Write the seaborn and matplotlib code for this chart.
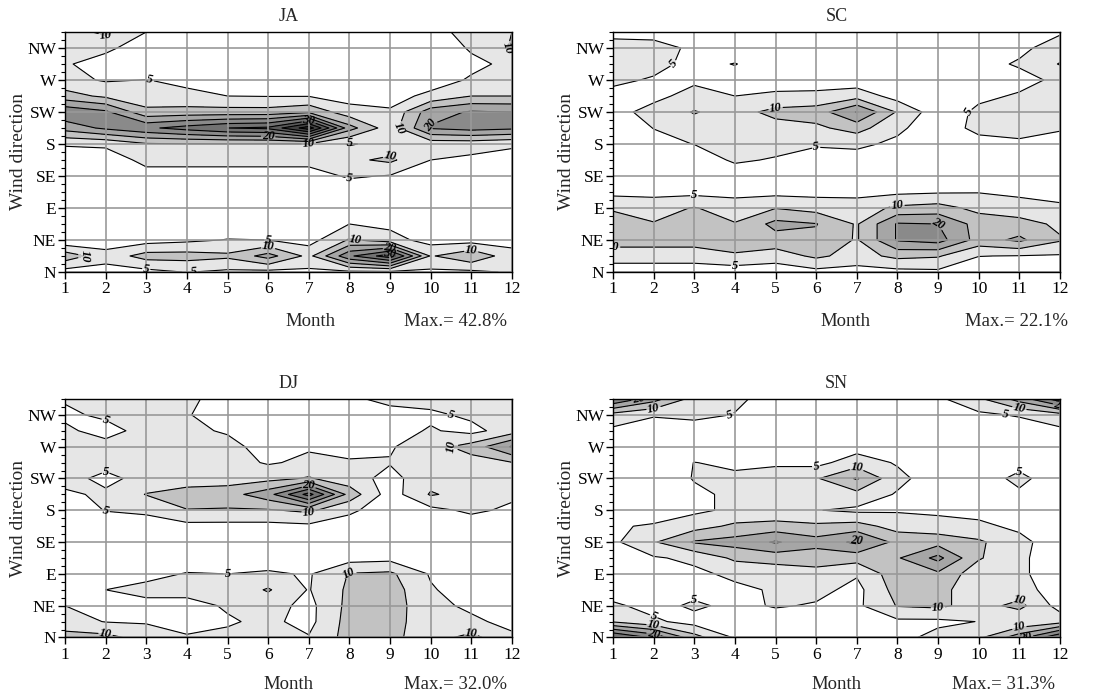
import numpy as np
import matplotlib
matplotlib.use("Agg")
import matplotlib.pyplot as plt
from matplotlib.ticker import MultipleLocator
import seaborn as sns

sns.set_theme(style="white")
plt.rcParams["font.family"] = ["Liberation Serif", "DejaVu Serif"]

# ---------------- data ----------------
months = list(range(1, 13))
dir16 = ["N", "NNE", "NE", "ENE", "E", "ESE", "SE", "SSE",
         "S", "SSW", "SW", "WSW", "W", "WNW", "NW", "NNW"]
dir_labels = ["N", "NE", "E", "SE", "S", "SW", "W", "NW"]
stations = ["JA", "SC", "DJ", "SN"]
max_text = ["Max.= 42.8%", "Max.= 22.1%", "Max.= 32.0%", "Max.= 31.3%"]

# frequency (%) per direction (rows N..NNW) and month (columns 1..12)
JA = [
    [3, 3, 3.5, 5.2, 4, 3.5, 4, 4, 4, 4, 4, 5.5],
    [13, 7, 12, 12, 11, 17, 8.5, 24, 33, 9.5, 14, 7],
    [1, 2, 3, 4, 5.2, 5, 3, 10.5, 7, 3, 3, 3],
    [1, 1, 1, 1.5, 2, 2, 2, 5, 3.8, 1, 1, 1],
    [0.5, 0.5, 0.5, 1, 1, 1, 1, 2, 1.5, 0.5, 0.5, 0.5],
    [0.5, 0.5, 0.5, 0.5, 0.5, 1, 1, 2, 1, 0.5, 0.5, 0.5],
    [1, 1, 3, 3, 3, 3, 3, 5.6, 4.7, 2, 1, 1],
    [2, 2, 6.5, 6.5, 6.5, 6.5, 6.5, 9, 11, 5, 4, 3],
    [5.5, 6, 9.5, 9.8, 9.8, 9.8, 9.8, 4.5, 7, 7, 7, 5.8],
    [17, 21, 24, 27, 30, 31, 42.8, 17, 7, 20.5, 22, 21],
    [24, 21, 11.5, 12, 12, 12, 14, 7, 5.5, 18, 20.5, 20],
    [12, 9, 6.5, 6, 5, 4.8, 4.8, 3, 3.5, 6, 10, 10],
    [6.5, 4.5, 5.1, 4, 3, 2.5, 2.5, 2, 2.5, 3, 5.5, 7],
    [5.5, 3, 2, 1.5, 1, 1, 1, 1, 1.5, 3.5, 4, 6],
    [6, 6, 2.5, 1.5, 1, 1, 1, 1, 1, 2, 5.5, 10.5],
    [8, 11, 5, 2, 1.5, 1, 1, 1, 1.5, 3, 7, 10],
]

SC = [
    [2, 2, 2, 2, 2, 3.5, 3, 3.5, 4, 2, 2, 2],
    [7.5, 7.5, 7.5, 9.5, 7.5, 11, 8, 11.3, 10.5, 5.1, 4.8, 4.5],
    [12, 12, 12, 12, 13, 14, 9.5, 20.5, 22.1, 13, 16, 10.5],
    [12, 10.3, 12, 10.3, 16.5, 15.2, 9.5, 20.5, 20, 13, 12, 9],
    [9.5, 8, 10.3, 7.5, 9.8, 8, 7.5, 11, 12, 8.5, 7, 6],
    [3.5, 3.5, 3.5, 3.5, 3.5, 3.5, 3.5, 4, 4.5, 4.8, 4, 3],
    [1, 1, 1, 2, 1.5, 1.5, 1.5, 1.5, 1.5, 1.5, 1, 1],
    [1, 1.5, 2, 5.8, 4.5, 3, 3, 2, 1, 1, 1.5, 1.5],
    [2, 3.5, 5.1, 7, 7, 5.5, 6, 4, 2, 3, 4, 3],
    [2, 5.1, 8, 8, 8, 9, 12, 6, 2, 6.5, 7, 5.5],
    [3, 7, 10.3, 8, 11.5, 12.5, 20.3, 9.5, 2, 6, 7.5, 7],
    [3.5, 3.5, 7, 5, 5.8, 6, 8, 3, 1, 4, 5.5, 6],
    [6, 4.5, 4, 3, 3, 3, 2, 1.5, 1, 2, 3.5, 6],
    [7, 6.5, 3.5, 5.2, 2, 2, 1.5, 1, 1, 3.5, 5.5, 10.3],
    [7, 7, 4, 2, 2, 1.5, 1, 1, 1, 2, 4, 7],
    [3.5, 3, 2, 1.5, 1, 1, 1, 1, 1, 1.5, 3, 4.5],
]

DJ = [
    [12, 11.5, 8, 5.5, 6, 6, 5.3, 12, 11, 8, 11.5, 6],
    [7, 4.8, 4.5, 3, 4.5, 6, 3.5, 12, 12, 7, 6, 3.5],
    [5.0, 2, 3.5, 3.5, 5.5, 7, 3.5, 11.5, 12.5, 6.5, 4, 2],
    [2, 5, 6.5, 6.5, 6.5, 10.5, 4.7, 11, 12.5, 5.5, 2.5, 1.5],
    [1.5, 3, 3.5, 5.3, 5, 5.8, 4.5, 10.3, 11, 4.5, 2, 1],
    [1, 1.5, 2, 2, 2, 2, 2.5, 3, 3.5, 2, 1, 1],
    [1, 1, 1, 1, 1, 1, 1, 1, 1, 1, 1, 1],
    [2, 2, 2.5, 3.5, 3.5, 3.5, 4, 2.5, 1.5, 1.5, 2, 1.5],
    [2, 5.2, 6, 9.8, 9.5, 9.5, 11, 6, 2, 3.5, 6, 4],
    [4, 6, 10.2, 12.5, 13, 18, 32, 13, 2.5, 10.5, 8, 6],
    [7, 3.5, 7, 7, 7.5, 8.5, 10.5, 7, 3.5, 8, 7, 7],
    [7, 7, 7, 7, 7, 4.5, 6, 5.6, 5.3, 7, 8, 9.8],
    [7, 7, 7, 7, 6.5, 3, 4.5, 3, 4.5, 8, 12, 20.5],
    [6, 3, 7, 6, 4.5, 2, 2, 2, 3, 5.5, 3.5, 7.5],
    [4, 6, 7, 5.2, 3.5, 2, 2, 2, 3, 4, 6, 7],
    [5.5, 7, 7, 6, 3, 2, 2, 4, 6.5, 7, 7, 7],
]

SN = [
    [31.3, 24, 12, 4.5, 3, 3, 3, 3.5, 6.5, 9, 18, 30],
    [9.5, 6, 3, 2, 2, 3, 4, 4, 4, 5.1, 5.5, 8],
    [6, 3, 6, 3.5, 5.5, 4.5, 4, 10.3, 11, 8, 11.5, 3],
    [2, 2, 3, 4, 5.5, 6.5, 3.5, 12, 12, 6, 7, 2.5],
    [2, 3, 4, 6, 7, 8.5, 5.5, 13, 14, 7, 6, 2],
    [3, 4.5, 6, 11, 12, 12, 12, 14.5, 21.5, 10.5, 6, 2],
    [4, 9.5, 15.5, 17, 20.5, 17, 21, 13.5, 13, 10.8, 6.5, 2],
    [4.5, 5.5, 8, 11, 12, 11, 12, 8, 7, 6, 4, 2],
    [2, 2.5, 4, 6, 6, 5.2, 4, 4.5, 4, 3.5, 3, 2],
    [1.5, 2, 4, 6, 6.5, 6.5, 8.5, 4.5, 3, 2, 4, 1.5],
    [1, 1.5, 5.3, 6, 6.5, 9.5, 15.5, 6.5, 2, 2, 6.5, 1.5],
    [1, 1, 5.1, 4, 4.5, 3.5, 7.5, 4.5, 1.5, 1.5, 3, 1],
    [1.5, 1, 1, 1, 1, 1.5, 3, 2, 1, 1, 1.5, 1.5],
    [4, 2, 2, 1.5, 1, 1, 1, 1, 1, 1.5, 2, 4],
    [8, 5.5, 6.5, 4.8, 2, 1, 1, 1, 2, 4, 5.5, 8],
    [25, 17, 8, 6, 3, 2, 2, 2, 4, 9, 17, 28],
]

data = {"JA": JA, "SC": SC, "DJ": DJ, "SN": SN}

levels = [5, 10, 15, 20, 25, 30, 35, 40, 60]
label_levels = [5, 10, 20, 30]
fills = ["#e6e6e6", "#c2c2c2", "#a6a6a6", "#8a8a8a",
         "#727272", "#5a5a5a", "#424242", "#2a2a2a"]

# ---------------- figure ----------------
fig = plt.figure(figsize=(10.96, 6.99), dpi=100)
positions = [
    [0.0593, 0.6109, 0.4078, 0.3433],
    [0.5593, 0.6109, 0.4078, 0.3433],
    [0.0593, 0.0880, 0.4078, 0.3412],
    [0.5593, 0.0880, 0.4078, 0.3412],
]
month_x = [0.55, 0.52, 0.5, 0.5]
text_y = [-0.208, -0.208, -0.198, -0.198]
max_x = [0.99, 1.018, 0.99, 0.99]

ydir = np.arange(len(dir16)) * 0.5

for i, name in enumerate(stations):
    ax = fig.add_axes(positions[i])
    Z = np.array(data[name], dtype=float)
    ax.contourf(months, ydir, Z, levels=levels, colors=fills, zorder=1)
    cs = ax.contour(months, ydir, Z, levels=levels[:-1], colors="black",
                    linewidths=0.8, zorder=2)
    lab = ax.clabel(cs, levels=[l for l in label_levels if l in cs.levels],
                    fmt="%d", fontsize=9, inline=True, inline_spacing=1)
    for t in lab:
        t.set_fontweight("bold")
        t.set_fontstyle("italic")

    ax.set_xlim(1, 12)
    ax.set_ylim(0, 7.5)
    ax.set_xticks(months)
    ax.set_xticklabels([str(m) for m in months])
    ax.set_yticks(range(len(dir_labels)))
    ax.set_yticklabels(dir_labels)
    ax.yaxis.set_minor_locator(MultipleLocator(0.25))
    ax.tick_params(axis="both", which="major", direction="out", length=5,
                   width=1, color="black", labelsize=12.5, left=True,
                   bottom=True, pad=1.5, labelcolor="black")
    ax.tick_params(axis="y", which="minor", direction="out", length=3,
                   width=0.8, color="black", left=True)
    ax.grid(True, which="major", color="#999999", linewidth=1.2, zorder=3)
    ax.set_axisbelow(False)
    for sp in ax.spines.values():
        sp.set_visible(True)
        sp.set_color("black")
        sp.set_linewidth(1.0)
        sp.set_zorder(4)

    ax.set_title(name, fontsize=13, pad=8)
    ax.text(-0.105, 0.5, "Wind direction", rotation=90, transform=ax.transAxes,
            ha="center", va="center", fontsize=14)
    ax.text(month_x[i], text_y[i], "Month", transform=ax.transAxes,
            ha="center", va="center", fontsize=13.5)
    ax.text(max_x[i], text_y[i], max_text[i], transform=ax.transAxes,
            ha="right", va="center", fontsize=13.5)

fig.savefig("out.png", dpi=100)
